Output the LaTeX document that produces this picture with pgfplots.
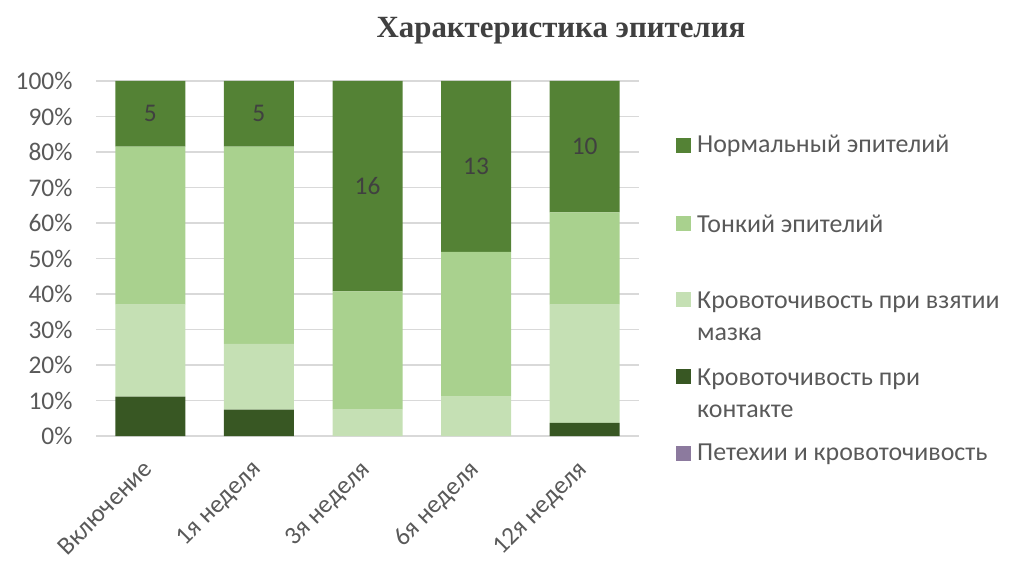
\documentclass[border=0pt]{standalone}
\usepackage{pgfplots}
\pgfplotsset{compat=1.18}
\usepackage{pgfplotstable}
\usepackage{fontspec}
\setmainfont{Carlito}
\newfontfamily\titlefont{Liberation Serif}

\definecolor{normalc}{RGB}{84,130,53}
\definecolor{thinc}{RGB}{169,209,142}
\definecolor{smearc}{RGB}{197,224,180}
\definecolor{contactc}{RGB}{56,87,35}
\definecolor{petechc}{RGB}{140,122,158}
\definecolor{gridgray}{RGB}{217,217,217}
\definecolor{textgray}{RGB}{89,89,89}
\definecolor{labelgray}{RGB}{64,64,64}

% share of 27 patients in %, cnt = number of patients
\pgfplotstableread{
x pct cnt
0 0 0
1 0 0
2 0 0
3 0 0
4 0 0
}\tabpetech
\pgfplotstableread{
x pct cnt
0 11.11 3
1 7.41 2
2 0 0
3 0 0
4 3.70 1
}\tabcontact
\pgfplotstableread{
x pct cnt
0 25.93 7
1 18.52 5
2 7.41 2
3 11.11 3
4 33.33 9
}\tabsmear
\pgfplotstableread{
x pct cnt
0 44.44 12
1 55.56 15
2 33.33 9
3 40.74 11
4 25.93 7
}\tabthin
\pgfplotstableread{
x pct cnt
0 18.52 5
1 18.52 5
2 59.26 16
3 48.15 13
4 37.04 10
}\tabnormal

\begin{document}
\begin{tikzpicture}
\path[use as bounding box] (0,0) rectangle (1024bp,576bp);

\node[font=\titlefont\bfseries\fontsize{31}{36}\selectfont, text=labelgray]
  at (561bp,545bp) {Характеристика эпителия};

\begin{axis}[
  at={(96bp,140bp)}, anchor=south west,
  scale only axis,
  width=543bp, height=355bp,
  ybar stacked,
  bar width=70bp,
  xmin=-0.5, xmax=4.5, ymin=0, ymax=100,
  xtick={0,1,2,3,4},
  xticklabels={Включение,1я неделя,3я неделя,6я неделя,12я неделя},
  ytick={0,10,...,100},
  yticklabel={\pgfmathprintnumber{\tick}\%},
  /pgf/number format/assume math mode=true,
  ymajorgrids,
  grid style={gridgray, line width=1.2bp},
  axis line style={draw=none},
  major tick length=0pt,
  tick label style={font=\fontsize{25.5}{30}\selectfont, text=textgray},
  xticklabel style={xshift=-8.5bp, yshift=-22.6bp, rotate=45, anchor=north east, inner sep=0bp},
  yticklabel style={anchor=east, xshift=-20bp},
  clip=false,
]
\addplot [fill=petechc, draw=none] table [x=x, y=pct] {\tabpetech};
\addplot [fill=contactc, draw=none] table [x=x, y=pct] {\tabcontact};
\addplot [fill=smearc, draw=none] table [x=x, y=pct] {\tabsmear};
\addplot [fill=thinc, draw=none] table [x=x, y=pct] {\tabthin};
\addplot [fill=normalc, draw=none,
  point meta=explicit,
  nodes near coords,
  every node near coord/.append style={anchor=center,
    font=\fontsize{25.5}{30}\selectfont, text=labelgray}]
  table [x=x, y=pct, meta=cnt] {\tabnormal};
\end{axis}

% legend
\begin{scope}[font=\fontsize{26}{32}\selectfont]
\fill[normalc]  (676bp,423bp) rectangle ++(15bp,15bp);
\node[anchor=west, inner sep=0pt, text=textgray] at (697bp,430bp) {Нормальный эпителий};
\fill[thinc]    (676bp,345bp) rectangle ++(15bp,15bp);
\node[anchor=west, inner sep=0pt, text=textgray] at (697bp,352bp) {Тонкий эпителий};
\fill[smearc]   (676bp,269bp) rectangle ++(15bp,15bp);
\node[anchor=west, inner sep=0pt, align=left, text=textgray] at (697bp,260bp) {Кровоточивость при взятии\\мазка};
\fill[contactc] (676bp,192bp) rectangle ++(15bp,15bp);
\node[anchor=west, inner sep=0pt, align=left, text=textgray] at (697bp,183bp) {Кровоточивость при\\контакте};
\fill[petechc]  (676bp,115bp) rectangle ++(15bp,15bp);
\node[anchor=west, inner sep=0pt, text=textgray] at (697bp,122bp) {Петехии и кровоточивость};
\end{scope}
\end{tikzpicture}
\end{document}
